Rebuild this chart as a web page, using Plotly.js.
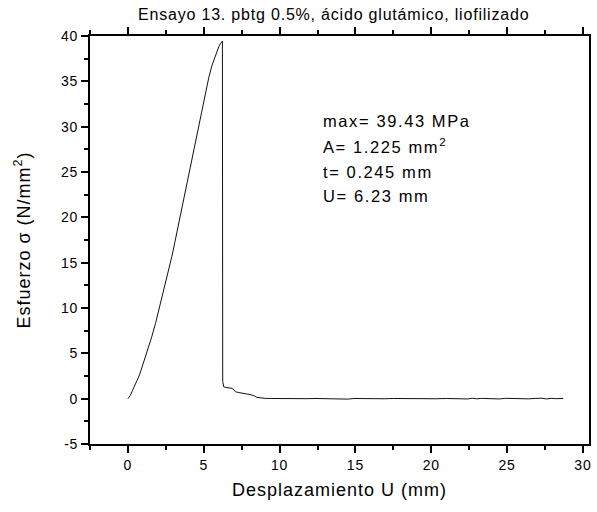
<!DOCTYPE html>
<html>
<head>
<meta charset="utf-8">
<script src="https://cdn.plot.ly/plotly-3.0.1.min.js"></script>
<style>
  html, body { margin: 0; padding: 0; background: #fff; }
  #chart { width: 597px; height: 512px; }
  /* slightly open letter spacing for the chart texts */
  .gtitle { letter-spacing: 0.8px; }
  .annotation-text { letter-spacing: 1.6px; }
  .xtitle, .ytitle { letter-spacing: 1px; }
  g.xtick text, g.ytick text { letter-spacing: 0.8px; }
</style>
</head>
<body>
<div id="chart"></div>
<script>
// Tensile test: stress vs. displacement (loading ramp, break, residual tail)
const displacement = [
  0, 0.15, 0.3, 0.45, 0.6, 0.78, 0.94, 1.1, 1.3, 1.55, 1.82, 2.05, 2.3, 2.5, 2.7,
  2.9, 3.1, 3.35, 3.57, 3.8, 4.0, 4.25, 4.46, 4.68, 4.89, 5.1, 5.33, 5.55, 5.77,
  5.9, 6.0, 6.12, 6.23,
  6.25, 6.28, 6.32, 6.45, 6.6, 6.75, 6.87, 7.0, 7.09, 7.3, 7.53, 7.7, 7.9, 8.05,
  8.18, 8.35, 8.51, 8.75, 9.06, 9.4, 9.8, 10.2, 10.6, 10.9, 11.3, 11.8, 12.4, 13.0,
  13.6, 14.2, 14.5, 14.9, 15.5, 16.2, 16.9, 17.5, 18.2, 18.9, 19.6, 20.3, 21.0,
  21.6, 22.1, 22.4, 22.7, 23.0, 23.3, 23.6, 24.0, 24.5, 24.9, 25.4, 25.9, 26.4,
  26.9, 27.3, 27.6, 27.9, 28.2, 28.5, 28.7
];
const stress = [
  0, 0.35, 0.9, 1.4, 2.0, 2.7, 3.5, 4.3, 5.3, 6.7, 8.3, 9.9, 11.6, 12.9, 14.15,
  15.7, 17.3, 19.3, 21.1, 22.9, 24.6, 26.5, 28.4, 30.2, 32.0, 33.7, 35.4, 36.8, 37.9,
  38.5, 38.85, 39.2, 39.43,
  1.9, 1.45, 1.3, 1.25, 1.2, 1.18, 1.13, 0.95, 0.76, 0.68, 0.58, 0.55, 0.5, 0.45,
  0.4, 0.3, 0.14, 0.08, 0.03, 0.02, 0.01, 0.03, -0.02, 0.04, 0.01, 0.0, 0.02, -0.01,
  0.01, 0.0, -0.05, 0.02, 0.0, 0.01, -0.01, 0.02, 0.0, 0.01, 0.0, -0.01, 0.02,
  0.0, 0.04, -0.03, 0.05, -0.02, 0.03, 0.0, 0.02, -0.03, 0.04, 0.0, 0.01, -0.02,
  0.03, 0.05, -0.03, 0.04, 0.0, 0.03, 0.02
];

const xTickVals = [0, 5, 10, 15, 20, 25, 30];
const xTickText = ['0', '5', '10', '15', '20', '25', '30'];
const yTickVals = [-5, 0, 5, 10, 15, 20, 25, 30, 35, 40];
const yTickText = ['-5', '0', '5', '10', '15', '20', '25', '30', '35', '40'];

const sampleInfo = [
  'max= 39.43 MPa',
  'A= 1.225 mm<sup>2</sup>',
  't= 0.245 mm',
  'U= 6.23 mm'
];
const infoY = [30.6, 27.85, 25.0, 22.35];

const font = 'Arial, "Liberation Sans", sans-serif';

const trace = {
  x: displacement,
  y: stress,
  type: 'scatter',
  mode: 'lines',
  line: { color: '#111', width: 1 },
  hoverinfo: 'x+y'
};

const minorTicks = { dtick: 2.5, tick0: 0, ticks: 'outside', ticklen: 4, tickwidth: 2, tickcolor: '#000' };

const axisCommon = {
  showgrid: false,
  zeroline: false,
  showline: true,
  linecolor: '#000',
  linewidth: 2,
  ticks: 'outside',
  ticklen: 7,
  tickwidth: 2,
  tickcolor: '#000',
  tickfont: { family: font, size: 14, color: '#000' }
};

const layout = {
  width: 597,
  height: 512,
  paper_bgcolor: '#fff',
  plot_bgcolor: '#fff',
  margin: { l: 90, r: 8, t: 36, b: 68 },
  showlegend: false,
  title: {
    text: 'Ensayo 13. pbtg 0.5%, ácido glutámico, liofilizado',
    font: { family: font, size: 16, color: '#000' },
    x: 0.559, xanchor: 'center',
    y: 0.971, yanchor: 'middle'
  },
  xaxis: Object.assign({}, axisCommon, {
    range: [-2.5, 30.4],
    tickvals: xTickVals,
    ticktext: xTickText,
    mirror: 'ticks',
    minor: minorTicks,
    title: { text: 'Desplazamiento U (mm)', font: { family: font, size: 18, color: '#000' }, standoff: 12 }
  }),
  yaxis: Object.assign({}, axisCommon, {
    range: [-5, 40],
    tickvals: yTickVals,
    ticktext: yTickText,
    mirror: true,
    minor: minorTicks,
    title: { text: 'Esfuerzo σ (N/mm<sup>2</sup>)', font: { family: font, size: 18, color: '#000' }, standoff: 26 }
  }),
  annotations: sampleInfo.map((t, i) => ({
    text: t,
    x: 12.7, y: infoY[i],
    xref: 'x', yref: 'y',
    xanchor: 'left', yanchor: 'middle',
    showarrow: false,
    font: { family: font, size: 16.5, color: '#000' }
  }))
};

Plotly.newPlot('chart', [trace], layout, { displayModeBar: false, staticPlot: true });
</script>
</body>
</html>
